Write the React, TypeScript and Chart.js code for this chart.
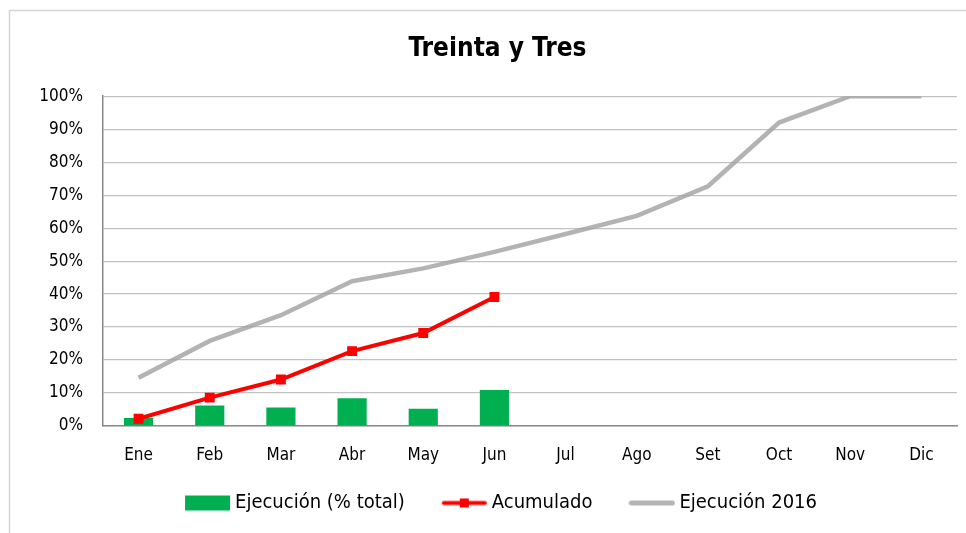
import React, { useEffect, useRef } from "react";
import { Chart, registerables } from "chart.js";

Chart.register(...registerables);

const months = ["Ene", "Feb", "Mar", "Abr", "May", "Jun", "Jul", "Ago", "Set", "Oct", "Nov", "Dic"];
const ejecucion = [2.4, 6.2, 5.6, 8.4, 5.2, 10.9];
const acumulado = [2.2, 8.6, 14.1, 22.7, 28.2, 39.1];
const ejecucion2016 = [14.6, 25.8, 33.6, 43.9, 47.8, 52.8, 58.2, 63.7, 72.7, 92.0, 100, 100];
const seriesNames = ["Ejecución (% total)", "Acumulado", "Ejecución 2016"];
const titleText = "Treinta y Tres";

const FONT = "'Liberation Sans Narrow', 'DejaVu Sans Condensed', 'Open Sans', sans-serif";
const GREEN = "#00b050";
const RED = "#ff0000";
const GRAY = "rgba(160,160,160,0.8)";
const LEGEND_LIFT = 15;

function legendIcon(kind: string): HTMLCanvasElement {
  const c = document.createElement("canvas");
  c.width = 47;
  c.height = 17;
  const ctx = c.getContext("2d")!;
  if (kind === "bar") {
    ctx.fillStyle = GREEN;
    ctx.fillRect(1, 1, 45, 15);
  } else {
    ctx.strokeStyle = kind === "red" ? RED : GRAY;
    ctx.lineWidth = kind === "red" ? 4 : 5;
    ctx.lineCap = "round";
    ctx.beginPath();
    ctx.moveTo(3, 8.5);
    ctx.lineTo(44, 8.5);
    ctx.stroke();
    if (kind === "red") {
      ctx.fillStyle = RED;
      ctx.fillRect(19, 4, 9, 9);
    }
  }
  return c;
}

const framePlugin = {
  id: "frame",
  beforeDraw(chart: any) {
    const ctx = chart.ctx;
    ctx.save();
    ctx.fillStyle = "#ffffff";
    ctx.fillRect(0, 0, chart.width, chart.height);
    ctx.strokeStyle = "#d4d4d4";
    ctx.lineWidth = 1.5;
    ctx.beginPath();
    ctx.moveTo(9.5, chart.height);
    ctx.lineTo(9.5, 10.5);
    ctx.lineTo(chart.width, 10.5);
    ctx.stroke();
    ctx.restore();
  },
  beforeLayout(chart: any) {
    const lg = chart.legend;
    if (lg && !lg._shortened) {
      const orig = lg.fit;
      lg.fit = function () {
        orig.call(this);
        this.height -= LEGEND_LIFT;
      };
      lg._shortened = true;
    }
  },
  afterLayout(chart: any) {
    const lg = chart.legend;
    if (lg) {
      lg.left += 6;
      lg.right += 6;
      lg.top -= LEGEND_LIFT;
    }
  },
};

export default function App() {
  const ref = useRef<HTMLCanvasElement | null>(null);

  useEffect(() => {
    if (!ref.current) return;
    const icons = [legendIcon("bar"), legendIcon("red"), legendIcon("gray")];
    const chart = new Chart(ref.current, {
      type: "bar",
      data: {
        labels: months,
        datasets: [
          {
            type: "bar",
            label: seriesNames[0],
            data: ejecucion,
            backgroundColor: GREEN,
            borderWidth: 0,
            categoryPercentage: 1,
            barPercentage: 0.41,
            order: 3,
          },
          {
            type: "line",
            label: seriesNames[1],
            data: acumulado,
            borderColor: RED,
            backgroundColor: RED,
            borderWidth: 4,
            pointStyle: "rect",
            pointRadius: 7,
            pointBorderWidth: 0,
            tension: 0,
            order: 1,
          },
          {
            type: "line",
            label: seriesNames[2],
            data: ejecucion2016,
            borderColor: GRAY,
            backgroundColor: GRAY,
            borderWidth: 4.5,
            pointRadius: 0,
            tension: 0,
            order: 2,
          },
        ] as any,
      },
      options: {
        responsive: false,
        animation: false,
        devicePixelRatio: 1,
        layout: { padding: { left: 38, right: 9, top: 10, bottom: 10 } },
        plugins: {
          title: {
            display: true,
            text: titleText,
            color: "#000",
            font: { family: FONT, size: 26, weight: "bold" },
            padding: { top: 24, bottom: 31 },
          },
          legend: {
            position: "bottom",
            labels: {
              color: "#000",
              font: { family: FONT, size: 20 },
              usePointStyle: true,
              pointStyleWidth: 35,
              boxHeight: 17,
              padding: 42,
              generateLabels: (chart: any) =>
                chart.data.datasets.map((ds: any, i: number) => ({
                  text: ds.label,
                  datasetIndex: i,
                  pointStyle: icons[i],
                  fillStyle: "transparent",
                  strokeStyle: "transparent",
                  lineWidth: 0,
                  hidden: false,
                  fontColor: "#000",
                })),
            },
          },
          tooltip: { enabled: false },
        },
        scales: {
          x: {
            afterFit: (scale: any) => {
              scale.height = 40;
            },
            grid: { display: false, drawTicks: false },
            border: { display: true, color: "#898989", width: 1.5 },
            ticks: { color: "#000", font: { family: FONT, size: 17 }, padding: 19 },
          },
          y: {
            min: 0,
            max: 100,
            afterFit: (scale: any) => {
              scale.width = 65;
            },
            grid: { color: "#c2c2c2", lineWidth: 1.2, drawTicks: false },
            border: { display: true, color: "#898989", width: 1.5 },
            ticks: {
              stepSize: 10,
              color: "#000",
              font: { family: FONT, size: 17 },
              padding: 20,
              callback: (v: any) => `${v}%`,
            },
          },
        },
      } as any,
      plugins: [framePlugin],
    });
    return () => chart.destroy();
  }, []);

  return (
    <div style={{ position: "absolute", left: 0, top: 0, width: 966, height: 533 }}>
      <canvas ref={ref} width={966} height={533} style={{ display: "block" }} />
    </div>
  );
}
